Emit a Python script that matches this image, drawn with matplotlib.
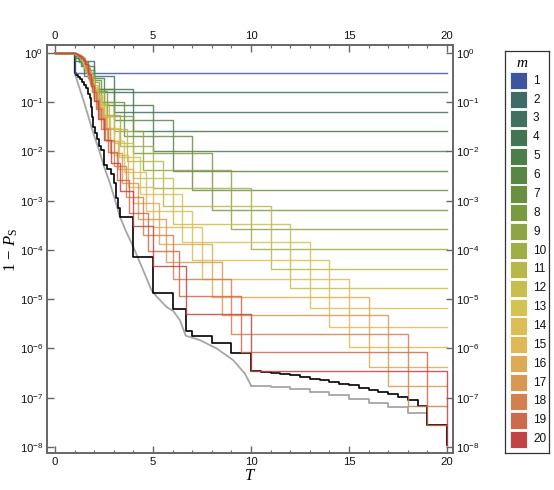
import numpy as np
import matplotlib
matplotlib.use("Agg")
import matplotlib.pyplot as plt
from matplotlib.ticker import FixedLocator, FuncFormatter, MultipleLocator
from matplotlib.patches import Rectangle

plt.rcParams['font.family'] = ['Liberation Sans', 'DejaVu Sans']
plt.rcParams['mathtext.fontset'] = 'custom'
plt.rcParams['mathtext.rm'] = 'Liberation Serif'
plt.rcParams['mathtext.it'] = 'Liberation Serif:italic'
plt.rcParams['mathtext.sf'] = 'Liberation Sans'

# ---- data: log10(1 - P_S) step levels for each m, in time order (k = m ... 1)
m_values = list(range(1, 21))
v1 = [-0.40]
v2 = [-0.17, -0.80]
v3 = [-0.10, -0.46, -1.19]
v4 = [-0.07, -0.27, -0.74, -1.59]
v5 = [-0.06, -0.19, -0.50, -1.05, -1.99]
v6 = [-0.05, -0.13, -0.35, -0.74, -1.36, -2.39]
v7 = [-0.04, -0.09, -0.25, -0.54, -1.00, -1.69, -2.79]
v8 = [-0.03, -0.06, -0.18, -0.41, -0.77, -1.28, -2.03, -3.18]
v9 = [-0.03, -0.04, -0.13, -0.31, -0.59, -1.00, -1.58, -2.38, -3.58]
v10 = [-0.03, -0.04, -0.09, -0.23, -0.47, -0.80, -1.26, -1.89, -2.74, -3.98]
v11 = [-0.02, -0.04, -0.06, -0.17, -0.37, -0.65, -1.03, -1.54, -2.20, -3.10, -4.38]
v12 = [-0.02, -0.03, -0.05, -0.12, -0.28, -0.52, -0.85, -1.27, -1.82, -2.53, -3.47, -4.78]
v13 = [-0.02, -0.03, -0.05, -0.07, -0.21, -0.41, -0.69, -1.06, -1.53, -2.11, -2.86, -3.84, -5.17]
v14 = [-0.02, -0.03, -0.04, -0.06, -0.15, -0.32, -0.57, -0.88, -1.29, -1.79, -2.41, -3.20, -4.21, -5.57]
v15 = [-0.02, -0.03, -0.04, -0.06, -0.09, -0.24, -0.46, -0.73, -1.09, -1.53, -2.07, -2.72, -3.54, -4.58, -5.97]
v16 = [-0.02, -0.02, -0.04, -0.06, -0.08, -0.17, -0.36, -0.61, -0.92, -1.31, -1.78, -2.35, -3.05, -3.88, -4.95, -6.37]
v17 = [-0.02, -0.02, -0.04, -0.05, -0.08, -0.11, -0.27, -0.49, -0.77, -1.12, -1.53, -2.04, -2.64, -3.37, -4.24, -5.32, -6.77]
v18 = [-0.01, -0.02, -0.03, -0.05, -0.07, -0.11, -0.20, -0.39, -0.64, -0.95, -1.32, -1.77, -2.30, -2.93, -3.70, -4.59, -5.70, -7.16]
v19 = [-0.01, -0.02, -0.03, -0.05, -0.07, -0.11, -0.16, -0.30, -0.52, -0.80, -1.14, -1.54, -2.02, -2.58, -3.25, -4.03, -4.94, -6.08, -7.56]
v20 = [-0.01, -0.02, -0.03, -0.04, -0.07, -0.10, -0.15, -0.22, -0.42, -0.67, -0.98, -1.34, -1.77, -2.24, -2.80, -3.51, -4.32, -5.29, -6.46, -7.96]
series = [v1, v2, v3, v4, v5, v6, v7, v8, v9, v10, v11, v12, v13, v14, v15, v16, v17, v18, v19, v20]

colors = ['#3C559F', '#3E6B66', '#3F7060', '#437552', '#4C7E4A', '#5A8645', '#6A8F40',
          '#7A9A40', '#8FA445', '#A3AD45', '#B8B84A', '#C7BE4E', '#D4C252', '#DBBE55',
          '#DFB957', '#DEAA55', '#D99852', '#D2804E', '#CC6A4A', '#C24343']

# black staircase (T, log10 value)
black_T = [0, 1.0, 1.1, 1.2, 1.3, 1.4, 1.5, 1.6, 1.7, 1.8, 1.85, 1.9, 1.95, 2.05, 2.15, 2.25,
           2.35, 2.5, 2.67, 2.86, 3.0, 3.1, 3.2, 3.33, 4.0, 5.0, 6.0, 6.67, 7.0, 8.0, 9.0,
           10.0, 10.5, 11.0, 11.5, 12.0, 12.5, 13.0, 13.5, 14.0, 14.5, 15.0, 15.5, 16.0,
           16.5, 17.0, 17.5, 18.0, 18.5, 19.0, 20.0]
black_v = [0, -0.40, -0.45, -0.49, -0.53, -0.58, -0.65, -0.72, -0.83, -0.92, -1.10, -1.30,
           -1.50, -1.62, -1.75, -1.88, -1.97, -2.28, -2.35, -2.45, -2.65, -2.95, -3.15, -3.33,
           -4.14, -4.88, -5.19, -5.64, -5.75, -5.89, -6.09, -6.46, -6.48, -6.50, -6.52, -6.54,
           -6.575, -6.61, -6.645, -6.68, -6.715, -6.75, -6.80, -6.84, -6.88, -6.93, -6.98,
           -7.04, -7.17, -7.56, -7.96]

# gray curve: smooth part then staircase
gray_T = [0, 1.0, 1.0, 1.5, 2.0, 2.25, 2.5, 2.81, 3.0, 3.32, 3.6, 4.0, 4.5, 4.93, 5.2, 5.7,
          6.04, 6.38, 6.67, 7.4, 8.25, 9.1, 9.69, 10.0]
gray_v = [0, 0, -0.40, -1.02, -1.68, -1.97, -2.30, -2.65, -2.90, -3.33, -3.60, -3.94, -4.41,
          -4.82, -4.95, -5.16, -5.24, -5.43, -5.74, -5.83, -6.00, -6.24, -6.51, -6.75]
gray_step_T = [10, 11, 12, 13, 14, 15, 16, 17, 18, 19, 20]
gray_step_v = [-6.76, -6.79, -6.83, -6.88, -6.95, -7.02, -7.10, -7.19, -7.32, -7.56, -7.96]

# ---- figure
W, H = 554, 490
fig = plt.figure(figsize=(W / 100, H / 100), dpi=100)
ax = fig.add_axes([46.7 / W, 1 - 452.7 / H, (452.7 - 46.7) / W, (452.7 - 45.0) / H])

ax.plot(gray_T, 10 ** np.array(gray_v), color='#a6a6a6', lw=1.3, zorder=2)
ax.plot(gray_step_T, 10 ** np.array(gray_step_v), color='#a6a6a6', lw=1.3,
        drawstyle='steps-post', zorder=2)
ax.plot(black_T, 10 ** np.array(black_v), color='black', lw=1.2,
        drawstyle='steps-post', zorder=3)

for m, vals, c in zip(m_values, series, colors):
    T = [0.0] + [m / k for k in range(m, 0, -1)] + [20.0]
    y = [0.0] + list(vals) + [vals[-1]]
    ax.plot(T, 10 ** np.array(y), color=c, lw=1.0, alpha=0.85,
            drawstyle='steps-post', zorder=4)

ax.set_yscale('log')
ax.set_xlim(-0.42, 20.29)
ax.set_ylim(10 ** -8.116, 10 ** 0.162)

ax.xaxis.set_major_locator(FixedLocator([0, 5, 10, 15, 20]))
ax.xaxis.set_minor_locator(MultipleLocator(1))
ax.yaxis.set_major_locator(FixedLocator([10.0 ** e for e in range(-8, 1)]))
ax.yaxis.set_minor_locator(FixedLocator([]))
ax.yaxis.set_major_formatter(FuncFormatter(
    lambda v, p: r'$\mathsf{10^{%d}}$' % int(round(np.log10(v)))))

frame_c = '#666666'
for s in ax.spines.values():
    s.set_color(frame_c)
    s.set_linewidth(1.4)
ax.tick_params(which='both', direction='in', top=True, right=True,
               labeltop=True, labelright=True, color=frame_c, labelcolor='#111111',
               labelsize=8.2)
ax.tick_params(which='major', length=5, width=1.0)
ax.tick_params(which='minor', length=2.5, width=0.8)
ax.tick_params(axis='x', pad=3)
ax.tick_params(axis='y', pad=2.5)

ax.set_xlabel(r'$T$', fontsize=12, labelpad=1)
fig.text(11.5 / W, 1 - 250.0 / H, r'$\mathrm{1}\,-\,P_{\mathrm{S}}$', rotation=90,
         ha='center', va='center', fontsize=12)

# ---- legend drawn in its own pixel-coordinate axes
lx0, ly0, lx1, ly1 = 505.0, 50.7, 549.0, 453.0
lax = fig.add_axes([lx0 / W, 1 - ly1 / H, (lx1 - lx0) / W, (ly1 - ly0) / H])
lax.set_xlim(0, lx1 - lx0)
lax.set_ylim(ly1 - ly0, 0)
lax.set_xticks([])
lax.set_yticks([])
for s in lax.spines.values():
    s.set_color('#333333')
    s.set_linewidth(0.9)
lax.text(17.0, 12.6, r'$m$', ha='center', va='center', fontsize=11)
for i, (m, c) in enumerate(zip(m_values, colors)):
    cy = 30.0 + 18.87 * i
    lax.add_patch(Rectangle((5.0, cy - 8.6), 17.3, 17.2, facecolor=c, edgecolor='white',
                            linewidth=0.6))
    lax.text(28.0, cy, str(m), ha='left', va='center', fontsize=8.5, color='#111111')

fig.savefig('out.png', dpi=100)
